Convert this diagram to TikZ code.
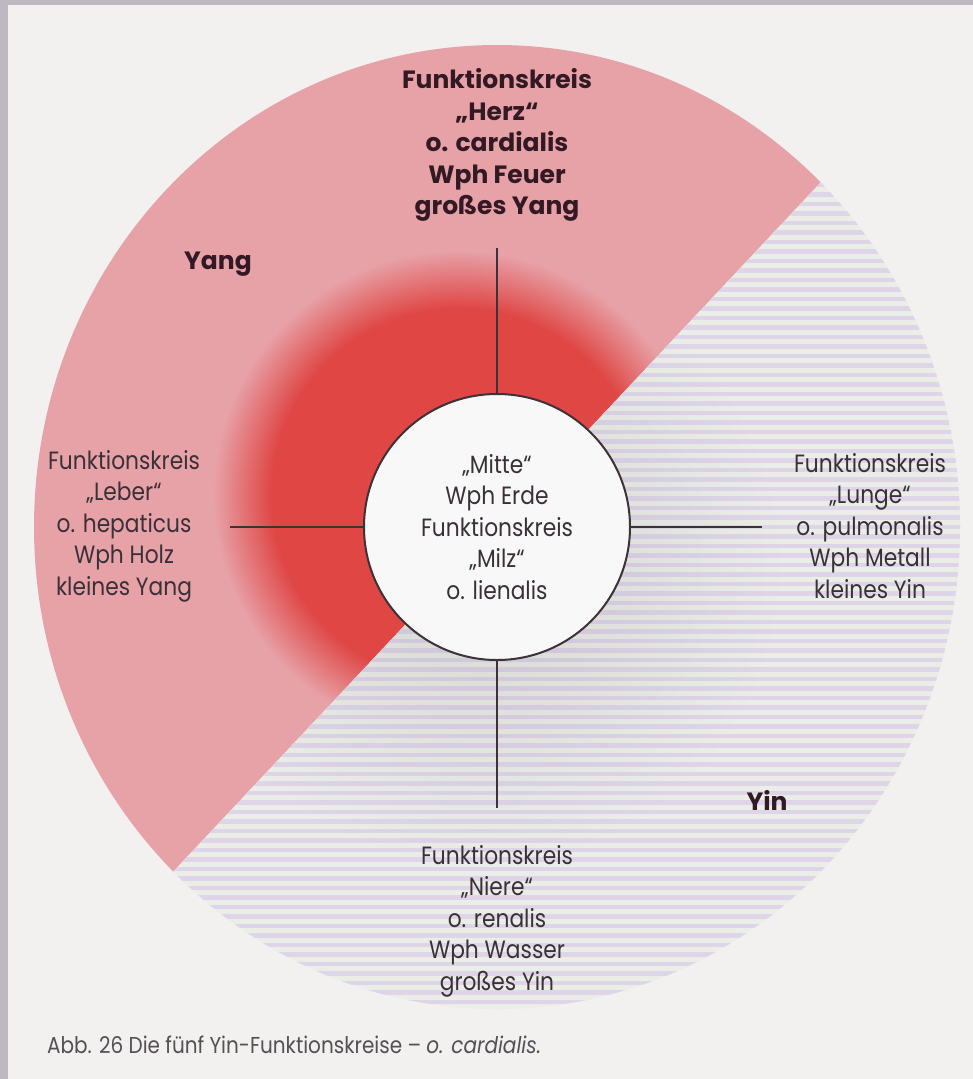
\documentclass[tikz,border=0pt]{standalone}
\usepackage{fontspec}
\setmainfont{Poppins}[FakeStretch=0.87, BoldFeatures={FakeStretch=1.0}]
\usepackage{tikz}
\usepackage{xcolor}
\usetikzlibrary{fadings}
\definecolor{pagebg}{RGB}{243,240,240}
\definecolor{bordergrey}{RGB}{190,185,192}
\definecolor{yangpink}{RGB}{231,162,168}
\definecolor{blobred}{RGB}{223,70,68}
\definecolor{yinbase}{RGB}{235,237,231}
\definecolor{yinstripe}{RGB}{222,213,233}
\definecolor{linedark}{RGB}{60,50,55}
\definecolor{textdark}{RGB}{58,48,55}
\definecolor{boldtext}{RGB}{50,25,35}
\definecolor{captiongrey}{RGB}{85,80,85}
\pgfdeclareradialshading{redblob}{\pgfpoint{0bp}{0bp}}{color(0bp)=(blobred); color(19bp)=(blobred); color(25bp)=(yangpink); color(50bp)=(yangpink)}
\tikzfading[name=softblob, inner color=transparent!0, outer color=transparent!100]

\begin{document}
\begin{tikzpicture}[
    x=1pt, y=-1pt,
    organ/.style={align=center, inner sep=0pt, text=textdark, font=\fontsize{25}{31.5}\selectfont},
    organbold/.style={organ, text=boldtext, font=\fontsize{25}{31.5}\selectfont\bfseries},
    center/.style={circle, draw=linedark, line width=2pt, fill=pagebg!50!white, minimum size=266pt, inner sep=0pt, align=center, text=textdark, font=\fontsize{25}{31.5}\selectfont},
    conn/.style={draw=linedark, line width=2pt}
]
\useasboundingbox (0,0) rectangle (973,1079);

% page and scan border
\fill[pagebg] (0,0) rectangle (973,1079);
\fill[bordergrey] (0,0) rectangle (8,1079);
\fill[bordergrey] (0,0) rectangle (973,5);

% the big disc, split along the diagonal
\begin{scope}
  \clip (497,527) ellipse [x radius=463, y radius=482];
  % yang half
  \begin{scope}
    \clip (1149,-167) -- (-600,-600) -- (-155,1221) -- cycle;
    \fill[yangpink] (0,0) rectangle (973,1079);
    \shade[shading=redblob] (458,495) circle (245);
  \end{scope}
  % yin half
  \begin{scope}
    \clip (1149,-167) -- (1600,1600) -- (-155,1221) -- cycle;
    \fill[yinbase] (0,0) rectangle (973,1079);
    \foreach \y in {40,49.5,...,1020}
      \fill[yinstripe] (0,\y) rectangle (973,\y+4.5);
    \fill[black!55, fill opacity=0.18, path fading=softblob] (480,565) circle (300);
  \end{scope}
\end{scope}

% centre
\node[center] (mitte) at (497,527) {„Mitte“\\Wph Erde\\Funktionskreis\\„Milz“\\o. lienalis};

% line ends
\coordinate (topend) at (497,248);
\coordinate (leftend) at (230,527);
\coordinate (rightend) at (762,527);
\coordinate (bottomend) at (497,808);

\draw[conn] (mitte) -- (topend);
\draw[conn] (mitte) -- (leftend);
\draw[conn] (mitte) -- (rightend);
\draw[conn] (mitte) -- (bottomend);

% the four outer circles
\node[organbold] (herz) at (497,145) {Funktionskreis\\„Herz“\\o. cardialis\\Wph Feuer\\großes Yang};
\node[organ] (leber) at (124,526) {Funktionskreis\\„Leber“\\o. hepaticus\\Wph Holz\\kleines Yang};
\node[organ] (lunge) at (870,526) {Funktionskreis\\„Lunge“\\o. pulmonalis\\Wph Metall\\kleines Yin};
\node[organ] (niere) at (497,921) {Funktionskreis\\„Niere“\\o. renalis\\Wph Wasser\\großes Yin};

% halves
\node[organbold] (yanglabel) at (218,264) {Yang};
\node[organbold] (yinlabel) at (767,800) {Yin};

% caption
\node[anchor=base west, inner sep=0pt, text=captiongrey, font=\fontsize{23}{27}\selectfont] (caption) at (47,1053) {Abb. 26 Die fünf Yin-Funktionskreise – \textit{o. cardialis.}};
\end{tikzpicture}
\end{document}
